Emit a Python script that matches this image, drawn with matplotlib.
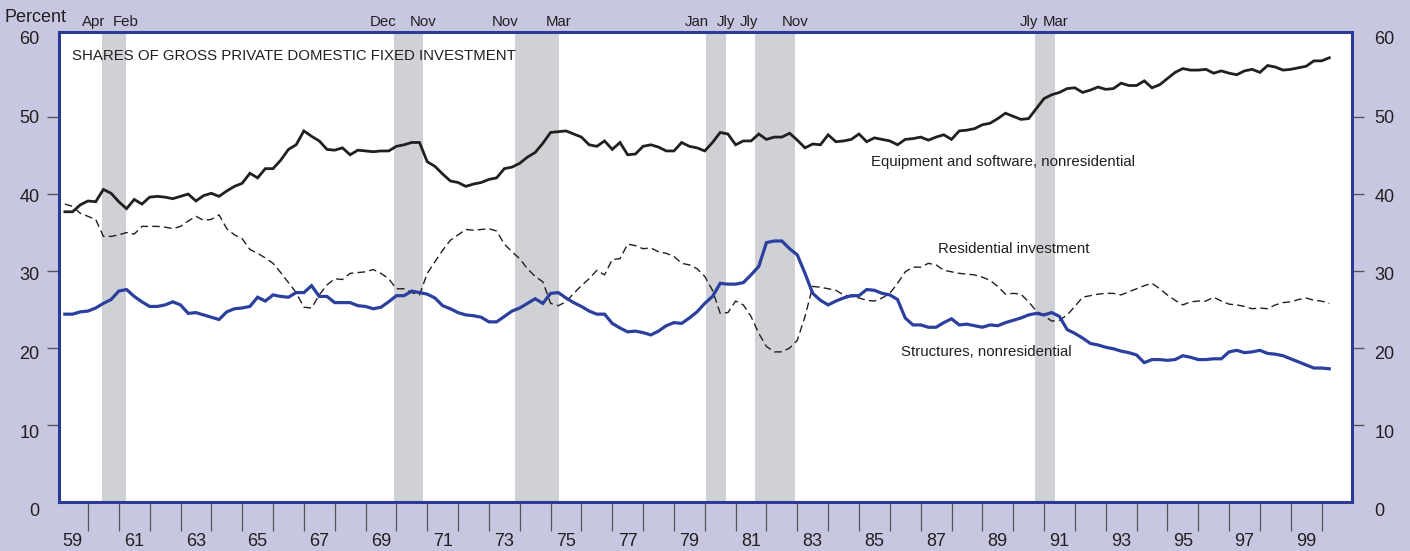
import numpy as np
import pandas as pd
import matplotlib
matplotlib.use("Agg")
import matplotlib.pyplot as plt
from matplotlib import font_manager as fm
from matplotlib.transforms import ScaledTranslation, blended_transform_factory

# ---------------- data (quarterly, 1959Q1 - 2000Q1, percent) ----------------
quarters = pd.period_range("1959Q1", "2000Q1", freq="Q")

equipment = [
    37.7, 37.7, 38.6, 39.1, 39.0, 40.6, 40.1, 39.0, 38.1, 39.3,
    38.7, 39.6, 39.7, 39.6, 39.4, 39.7, 40.0, 39.1, 39.8, 40.1,
    39.7, 40.4, 41.0, 41.4, 42.7, 42.1, 43.3, 43.3, 44.4, 45.8,
    46.4, 48.2, 47.5, 46.9, 45.8, 45.7, 46.0, 45.1, 45.7, 45.6,
    45.5, 45.6, 45.6, 46.2, 46.4, 46.7, 46.7, 44.2, 43.6, 42.6,
    41.7, 41.5, 41.0, 41.3, 41.5, 41.9, 42.1, 43.3, 43.5, 44.0,
    44.8, 45.4, 46.6, 48.0, 48.1, 48.2, 47.8, 47.4, 46.4, 46.2,
    46.9, 45.8, 46.7, 45.1, 45.2, 46.2, 46.4, 46.1, 45.6, 45.6,
    46.7, 46.2, 46.0, 45.6, 46.7, 48.0, 47.8, 46.4, 46.9, 46.9,
    47.8, 47.1, 47.4, 47.4, 47.9, 47.0, 46.0, 46.5, 46.4, 47.7,
    46.8, 46.9, 47.1, 47.8, 46.8, 47.3, 47.1, 46.9, 46.4, 47.1,
    47.2, 47.4, 47.0, 47.4, 47.7, 47.1, 48.2, 48.3, 48.5, 49.0,
    49.2, 49.8, 50.5, 50.1, 49.7, 49.8, 51.1, 52.4, 52.9, 53.2,
    53.7, 53.8, 53.2, 53.5, 53.9, 53.6, 53.7, 54.4, 54.1, 54.1,
    54.7, 53.8, 54.2, 55.0, 55.8, 56.3, 56.1, 56.1, 56.2, 55.7,
    56.0, 55.7, 55.5, 56.0, 56.2, 55.8, 56.7, 56.5, 56.1, 56.2,
    56.4, 56.6, 57.3, 57.3, 57.7,
]

residential = [
    38.7, 38.4, 37.5, 37.1, 36.7, 34.5, 34.5, 34.7, 35.0, 34.8,
    35.8, 35.8, 35.8, 35.7, 35.5, 35.8, 36.5, 37.1, 36.6, 36.7,
    37.3, 35.5, 34.7, 34.2, 32.8, 32.3, 31.7, 31.0, 29.8, 28.5,
    27.2, 25.3, 25.2, 26.9, 28.2, 29.0, 28.9, 29.7, 29.8, 29.9,
    30.2, 29.7, 29.0, 27.7, 27.7, 27.2, 26.9, 29.7, 31.2, 32.7,
    34.0, 34.7, 35.4, 35.3, 35.4, 35.5, 35.2, 33.5, 32.5, 31.6,
    30.3, 29.3, 28.6, 25.8, 25.5, 26.0, 27.1, 28.1, 29.0, 30.1,
    29.5, 31.5, 31.6, 33.5, 33.3, 32.9, 33.0, 32.5, 32.3, 31.9,
    31.0, 30.8, 30.3, 29.3, 27.5, 24.5, 24.6, 26.1, 25.6, 24.1,
    21.9, 20.2, 19.5, 19.5, 20.0, 21.0, 24.1, 28.0, 27.9, 27.7,
    27.5, 26.9, 26.7, 26.5, 26.2, 26.1, 26.5, 27.1, 28.4, 29.9,
    30.5, 30.5, 31.0, 30.8, 30.1, 29.9, 29.7, 29.6, 29.5, 29.2,
    28.8, 28.0, 27.0, 27.1, 27.0, 26.0, 24.8, 24.2, 23.5, 23.6,
    24.3, 25.4, 26.6, 26.8, 27.0, 27.1, 27.1, 26.9, 27.3, 27.7,
    28.1, 28.4, 27.7, 26.9, 26.2, 25.6, 26.0, 26.1, 26.1, 26.6,
    26.1, 25.7, 25.6, 25.4, 25.1, 25.2, 25.1, 25.6, 25.9, 26.0,
    26.3, 26.5, 26.2, 26.1, 25.8,
]

structures = [
    24.4, 24.4, 24.7, 24.8, 25.2, 25.8, 26.3, 27.4, 27.6, 26.7,
    26.0, 25.4, 25.4, 25.6, 26.0, 25.6, 24.5, 24.6, 24.3, 24.0,
    23.7, 24.7, 25.1, 25.2, 25.4, 26.6, 26.1, 26.9, 26.7, 26.6,
    27.2, 27.2, 28.1, 26.7, 26.7, 25.9, 25.9, 25.9, 25.5, 25.4,
    25.1, 25.3, 26.0, 26.8, 26.8, 27.4, 27.2, 27.0, 26.5, 25.5,
    25.1, 24.6, 24.3, 24.2, 24.0, 23.4, 23.4, 24.1, 24.8, 25.2,
    25.8, 26.4, 25.8, 27.1, 27.2, 26.5, 25.9, 25.4, 24.8, 24.4,
    24.4, 23.2, 22.6, 22.1, 22.2, 22.0, 21.7, 22.2, 22.9, 23.3,
    23.2, 23.9, 24.7, 25.8, 26.7, 28.4, 28.3, 28.3, 28.5, 29.5,
    30.6, 33.7, 33.9, 33.9, 32.9, 32.1, 29.7, 27.1, 26.2, 25.6,
    26.1, 26.5, 26.8, 26.8, 27.6, 27.5, 27.1, 26.9, 26.3, 23.9,
    23.0, 23.0, 22.7, 22.7, 23.3, 23.8, 23.0, 23.1, 22.9, 22.7,
    23.0, 22.9, 23.3, 23.6, 23.9, 24.3, 24.5, 24.3, 24.6, 24.1,
    22.4, 21.9, 21.3, 20.6, 20.4, 20.1, 19.9, 19.6, 19.4, 19.1,
    18.1, 18.5, 18.5, 18.4, 18.5, 19.0, 18.8, 18.5, 18.5, 18.6,
    18.6, 19.5, 19.7, 19.4, 19.5, 19.7, 19.3, 19.2, 19.0, 18.6,
    18.2, 17.8, 17.4, 17.4, 17.3,
]

recession_starts = [1960.45, 1969.92, 1973.85, 1980.04, 1981.63, 1990.71]
recession_ends = [1961.23, 1970.86, 1975.27, 1980.69, 1982.93, 1991.36]
recession_start_labels = ["Apr", "Dec", "Nov", "Jan", "Jly", "Jly"]
recession_end_labels = ["Feb", "Nov", "Mar", "Jly", "Nov", "Mar"]

year_tick_positions = list(range(1960, 2001))
year_label_years = list(range(1959, 2000, 2))
year_labels = ["59", "61", "63", "65", "67", "69", "71", "73", "75", "77", "79",
               "81", "83", "85", "87", "89", "91", "93", "95", "97", "99"]
y_values = [0, 10, 20, 30, 40, 50, 60]
y_labels = ["0", "10", "20", "30", "40", "50", "60"]

title = "SHARES OF GROSS PRIVATE DOMESTIC FIXED INVESTMENT"
label_equipment = "Equipment and software, nonresidential"
label_residential = "Residential investment"
label_structures = "Structures, nonresidential"

# ---------------- style ----------------
BG = "#c7c7e2"
FRAME = "#2b3a98"
BLUE = "#2b3f9f"
INK = "#231f20"
SHADE = "#d0d1d4"
TICK = "#555555"

names = {f.name for f in fm.fontManager.ttflist}
REG = "Liberation Sans" if "Liberation Sans" in names else "DejaVu Sans"
if "Liberation Sans Narrow" in names:
    NARROW, NSIZE = "Liberation Sans Narrow", 13
else:
    NARROW, NSIZE = REG, 10.8

plt.rcParams["font.family"] = [REG, "DejaVu Sans"]

W, H = 1410, 551
fig = plt.figure(figsize=(W / 100, H / 100), dpi=100, facecolor=BG)
left, right, top, bottom = 59.3, 1351.5, 32.0, 502.0
ax = fig.add_axes([left / W, (H - bottom) / H, (right - left) / W, (bottom - top) / H])
ax.set_facecolor("white")

x = quarters.year + quarters.quarter / 4.0

for s, e in zip(recession_starts, recession_ends):
    ax.axvspan(s, e, color=SHADE, lw=0, zorder=0)

ax.plot(x, residential, color=INK, lw=1.0, dashes=(5.5, 3.0), zorder=2)
ax.plot(x, equipment, color=INK, lw=2.0, zorder=3, solid_joinstyle="miter")
ax.plot(x, structures, color=BLUE, lw=2.3, zorder=4, solid_joinstyle="miter")

ax.set_xlim(1959.07, 2000.97)
ax.set_ylim(0, 61.05)

for sp in ax.spines.values():
    sp.set_color(FRAME)
    sp.set_linewidth(2.2)
    sp.set_zorder(5)

# x axis: year boundary ticks + labels between them
ax.set_xticks(year_tick_positions)
ax.set_xticklabels([])
ax.set_xticks([yy + 0.5 for yy in year_label_years], minor=True)
ax.set_xticklabels(year_labels, minor=True)
ax.tick_params(axis="x", which="major", direction="out", length=21, width=0.9, color=TICK)
ax.tick_params(axis="x", which="minor", length=0, pad=22.5, labelsize=13, labelcolor=INK)

# y axis both sides
ax.set_yticks(y_values)
ax.set_yticklabels(y_labels)
ax.tick_params(axis="y", which="major", direction="out", length=8.6, width=1.0, color=TICK,
               left=True, right=True, labelleft=True, labelright=True,
               labelsize=13, labelcolor=INK, pad=5.8)
for t in ax.yaxis.get_major_ticks():
    v = t.get_loc()
    if v in (0, 60):
        t.tick1line.set_visible(False)
        t.tick2line.set_visible(False)
    dy = (8 - 0.17 * v) / 100.0
    for lab in (t.label1, t.label2):
        lab.set_transform(lab.get_transform() + ScaledTranslation(0, -dy, fig.dpi_scale_trans))
for t in ax.yaxis.get_major_ticks():
    t.label2.set_transform(t.label2.get_transform() + ScaledTranslation(0.03, 0, fig.dpi_scale_trans))

# recession month labels above frame
trans = blended_transform_factory(ax.transData, ax.transAxes)
for s, e, ls, le in zip(recession_starts, recession_ends, recession_start_labels, recession_end_labels):
    ax.text(s + 0.1, 1.013, ls, transform=trans, ha="right", va="baseline",
            family=[NARROW, REG], fontsize=NSIZE, color=INK, clip_on=False)
    ax.text(e, 1.013, le, transform=trans, ha="center", va="baseline",
            family=[NARROW, REG], fontsize=NSIZE, color=INK, clip_on=False)

fig.text(4 / W, 1 - 22 / H, "Percent", ha="left", va="baseline", fontsize=13, color=INK)

ax.text(0.0098, 0.9405, title, transform=ax.transAxes, ha="left", va="baseline",
        family=[NARROW, REG], fontsize=NSIZE, color=INK)
ax.text(1985.39, 43.6, label_equipment, ha="left", va="baseline",
        family=[NARROW, REG], fontsize=NSIZE, color=INK, zorder=6)
ax.text(1987.55, 32.3, label_residential, ha="left", va="baseline",
        family=[NARROW, REG], fontsize=NSIZE, color=INK, zorder=6)
ax.text(1986.37, 18.9, label_structures, ha="left", va="baseline",
        family=[NARROW, REG], fontsize=NSIZE, color=INK, zorder=6)

fig.savefig("out.png", dpi=100, facecolor=BG)
